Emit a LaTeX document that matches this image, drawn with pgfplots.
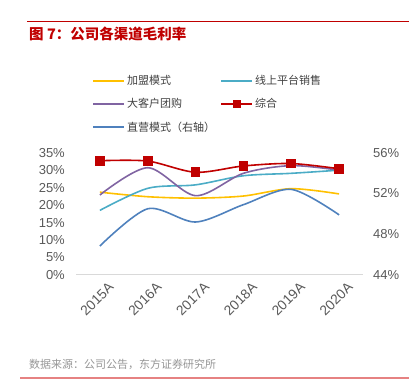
\documentclass[border=0pt]{standalone}
\usepackage{pgfplots}
\pgfplotsset{compat=1.18}
\usepackage{fontspec}
\setmainfont{Liberation Sans}
\newfontfamily\cjk{Noto Sans CJK SC}
\definecolor{cY}{RGB}{255,192,0}
\definecolor{cC}{RGB}{75,172,198}
\definecolor{cP}{RGB}{128,100,162}
\definecolor{cR}{RGB}{192,0,0}
\definecolor{cB}{RGB}{79,129,189}
\definecolor{tickgray}{RGB}{89,89,89}
\definecolor{titlered}{RGB}{192,0,0}
\definecolor{srcgray}{RGB}{150,150,150}
\definecolor{lightred}{RGB}{230,130,130}
\definecolor{axgray}{RGB}{217,217,217}
\pgfplotsset{
  base/.style={
    scale only axis, width=287bp, height=122.3bp,
    at={(76bp,114bp)}, anchor=south west,
    xmin=-0.5, xmax=5.5,
    xtick={0,...,5},
    major tick length=0pt,
    /pgf/number format/assume math mode=true,
    ticklabel style={font=\fontsize{13bp}{15bp}\selectfont, text=tickgray},
    every axis plot/.append style={line width=1.6bp, smooth, tension=0.5},
  },
  legend image code/.code={
    \draw[mark repeat=2,mark phase=2,#1] plot coordinates {(0bp,0bp) (15.5bp,0bp) (31bp,0bp)};
  },
}
\begin{document}
\begin{tikzpicture}[x=1bp,y=1bp]
\useasboundingbox (0,0) rectangle (409,389);
\draw[titlered, line width=0.8bp] (27,368) -- (409,368);
\node[anchor=west, text=titlered, font=\cjk\bfseries\fontsize{14.5bp}{16bp}\selectfont, inner sep=0] at (29,355) {图 7：公司各渠道毛利率};
\node[anchor=west, text=srcgray, font=\cjk\fontsize{11bp}{12bp}\selectfont, inner sep=0] at (29,25) {数据来源：公司公告，东方证券研究所};
\draw[lightred, line width=1.2bp] (20,11) -- (409,11);

\begin{axis}[base,
  ymin=0, ymax=35, ytick={0,5,...,35},
  yticklabel={\pgfmathprintnumber{\tick}\%},
  axis y line*=left, axis x line*=bottom,
  x axis line style={axgray, line width=1bp},
  y axis line style={draw=none},
  xticklabels={2015A,2016A,2017A,2018A,2019A,2020A},
  xticklabel style={rotate=45, anchor=east, inner sep=0pt, yshift=-15bp, xshift=1bp, font=\fontsize{13.8bp}{15bp}\selectfont},
  yticklabel style={anchor=east, inner sep=0pt, xshift=-11bp},
  legend style={draw=none, fill=none, at={(axis description cs:0.045,1.667)}, anchor=north west,
    font=\cjk\fontsize{11bp}{12bp}\selectfont, text=black!75, legend columns=2, row sep=8.5bp,
    /tikz/every even column/.append style={column sep=3bp}},
  legend cell align=left,
  legend image post style={line width=2bp, mark size=3bp},
]
\addplot[cY, no marks] coordinates {(0,23.7) (1,22.4) (2,22.0) (3,22.6) (4,24.7) (5,23.2)};
\addlegendentry{加盟模式}
\addplot[cC, no marks] coordinates {(0,18.5) (1,24.8) (2,25.8) (3,28.4) (4,29.1) (5,30.0)};
\addlegendentry{线上平台销售}
\addplot[cP, no marks] coordinates {(0,22.9) (1,30.7) (2,22.7) (3,29.1) (4,31.3) (5,30.0)};
\addlegendentry{大客户团购}
\addplot[cR, mark=square*, mark size=4bp, mark options={solid}] coordinates {(0,32.7) (1,32.6) (2,29.4) (3,31.2) (4,31.9) (5,30.4)};
\addlegendentry{综合}
\addlegendimage{draw=cB, line width=2bp}
\addlegendentry{直营模式（右轴）}
\end{axis}

\begin{axis}[base,
  ymin=44, ymax=56, ytick={44,48,52,56},
  yticklabel={\pgfmathprintnumber{\tick}\%},
  axis y line*=right, axis x line=none,
  y axis line style={draw=none},
  yticklabel style={anchor=west, inner sep=0pt, xshift=10bp},
]
\addplot[cB, no marks] coordinates {(0,46.85) (1,50.5) (2,49.2) (3,50.9) (4,52.4) (5,49.9)};
\end{axis}
\end{tikzpicture}
\end{document}
